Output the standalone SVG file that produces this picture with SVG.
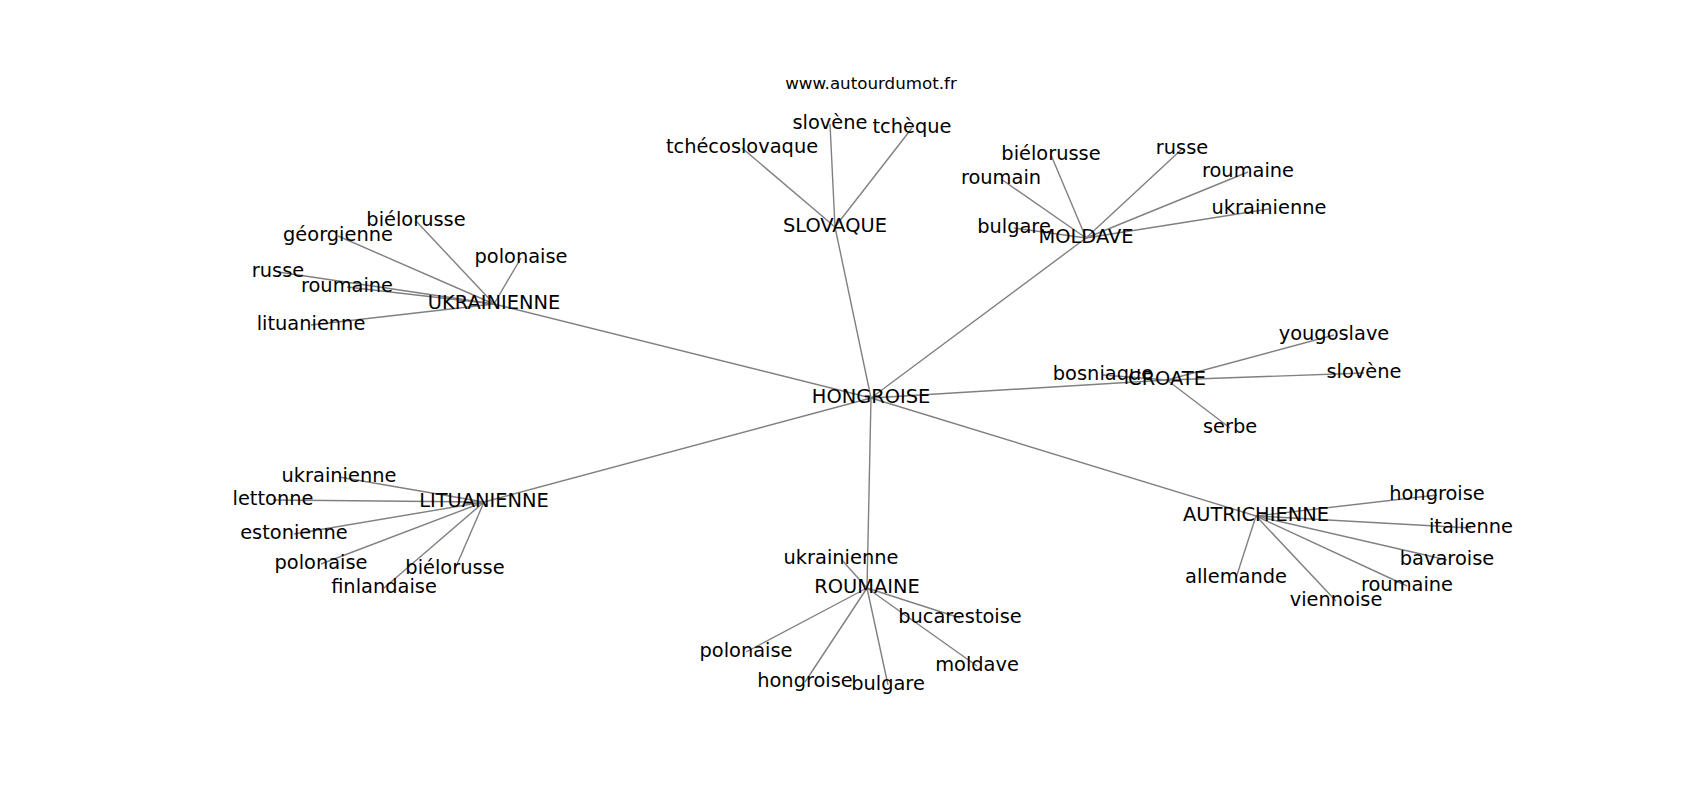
<svg xmlns="http://www.w3.org/2000/svg" width="1700" height="800" viewBox="0 0 1700 800">
<style>
.e line{stroke:#808080;stroke-width:1.4;fill:none}
text{font-family:"DejaVu Sans","Liberation Sans",sans-serif;font-size:19.4px;fill:#000;text-anchor:middle}
.t{font-size:16.7px}
</style>
<rect width="1700" height="800" fill="#fff"/>
<text class="t" x="871" y="89">www.autourdumot.fr</text>
<g class="e" id="edges">
<line x1="871" y1="398" x2="494" y2="304"/>
<line x1="871" y1="398" x2="835" y2="227"/>
<line x1="871" y1="398" x2="1086" y2="238"/>
<line x1="871" y1="398" x2="1167" y2="380"/>
<line x1="871" y1="398" x2="484" y2="502"/>
<line x1="871" y1="398" x2="867" y2="588"/>
<line x1="871" y1="398" x2="1256" y2="516"/>
<line x1="494" y1="304" x2="416" y2="221"/>
<line x1="494" y1="304" x2="338" y2="236"/>
<line x1="494" y1="304" x2="521" y2="258"/>
<line x1="494" y1="304" x2="278" y2="272"/>
<line x1="494" y1="304" x2="347" y2="287"/>
<line x1="494" y1="304" x2="311" y2="325"/>
<line x1="835" y1="227" x2="830" y2="124"/>
<line x1="835" y1="227" x2="912" y2="128"/>
<line x1="835" y1="227" x2="742" y2="148"/>
<line x1="1086" y1="238" x2="1051" y2="155"/>
<line x1="1086" y1="238" x2="1001" y2="179"/>
<line x1="1086" y1="238" x2="1182" y2="149"/>
<line x1="1086" y1="238" x2="1248" y2="172"/>
<line x1="1086" y1="238" x2="1269" y2="209"/>
<line x1="1086" y1="238" x2="1014" y2="228"/>
<line x1="1167" y1="380" x2="1334" y2="335"/>
<line x1="1167" y1="380" x2="1364" y2="373"/>
<line x1="1167" y1="380" x2="1230" y2="428"/>
<line x1="1167" y1="380" x2="1103" y2="375"/>
<line x1="484" y1="502" x2="339" y2="477"/>
<line x1="484" y1="502" x2="273" y2="500"/>
<line x1="484" y1="502" x2="294" y2="534"/>
<line x1="484" y1="502" x2="321" y2="564"/>
<line x1="484" y1="502" x2="384" y2="588"/>
<line x1="484" y1="502" x2="455" y2="569"/>
<line x1="867" y1="588" x2="841" y2="559"/>
<line x1="867" y1="588" x2="960" y2="618"/>
<line x1="867" y1="588" x2="746" y2="652"/>
<line x1="867" y1="588" x2="805" y2="682"/>
<line x1="867" y1="588" x2="888" y2="685"/>
<line x1="867" y1="588" x2="977" y2="666"/>
<line x1="1256" y1="516" x2="1437" y2="495"/>
<line x1="1256" y1="516" x2="1471" y2="528"/>
<line x1="1256" y1="516" x2="1447" y2="560"/>
<line x1="1256" y1="516" x2="1407" y2="586"/>
<line x1="1256" y1="516" x2="1336" y2="601"/>
<line x1="1256" y1="516" x2="1236" y2="578"/>
</g>
<g id="n-hongroise"><text x="871" y="403">HONGROISE</text></g>
<g id="n-ukrainienne"><text x="494" y="309">UKRAINIENNE</text></g>
<g id="n-slovaque"><text x="835" y="232">SLOVAQUE</text></g>
<g id="n-moldave"><text x="1086" y="243">MOLDAVE</text></g>
<g id="n-croate"><text x="1167" y="385">CROATE</text></g>
<g id="n-lituanienne"><text x="484" y="507">LITUANIENNE</text></g>
<g id="n-roumaine"><text x="867" y="593">ROUMAINE</text></g>
<g id="n-autrichienne"><text x="1256" y="521">AUTRICHIENNE</text></g>
<g id="n-ukr-bielorusse"><text x="416" y="226">biélorusse</text></g>
<g id="n-ukr-georgienne"><text x="338" y="241">géorgienne</text></g>
<g id="n-ukr-polonaise"><text x="521" y="263">polonaise</text></g>
<g id="n-ukr-russe"><text x="278" y="277">russe</text></g>
<g id="n-ukr-roumaine"><text x="347" y="292">roumaine</text></g>
<g id="n-ukr-lituanienne"><text x="311" y="330">lituanienne</text></g>
<g id="n-slo-slovene"><text x="830" y="129">slovène</text></g>
<g id="n-slo-tcheque"><text x="912" y="133">tchèque</text></g>
<g id="n-slo-tchecoslovaque"><text x="742" y="153">tchécoslovaque</text></g>
<g id="n-mol-bielorusse"><text x="1051" y="160">biélorusse</text></g>
<g id="n-mol-roumain"><text x="1001" y="184">roumain</text></g>
<g id="n-mol-russe"><text x="1182" y="154">russe</text></g>
<g id="n-mol-roumaine"><text x="1248" y="177">roumaine</text></g>
<g id="n-mol-ukrainienne"><text x="1269" y="214">ukrainienne</text></g>
<g id="n-mol-bulgare"><text x="1014" y="233">bulgare</text></g>
<g id="n-cro-yougoslave"><text x="1334" y="340">yougoslave</text></g>
<g id="n-cro-slovene"><text x="1364" y="378">slovène</text></g>
<g id="n-cro-serbe"><text x="1230" y="433">serbe</text></g>
<g id="n-cro-bosniaque"><text x="1103" y="380">bosniaque</text></g>
<g id="n-lit-ukrainienne"><text x="339" y="482">ukrainienne</text></g>
<g id="n-lit-lettonne"><text x="273" y="505">lettonne</text></g>
<g id="n-lit-estonienne"><text x="294" y="539">estonienne</text></g>
<g id="n-lit-polonaise"><text x="321" y="569">polonaise</text></g>
<g id="n-lit-finlandaise"><text x="384" y="593">finlandaise</text></g>
<g id="n-lit-bielorusse"><text x="455" y="574">biélorusse</text></g>
<g id="n-rou-ukrainienne"><text x="841" y="564">ukrainienne</text></g>
<g id="n-rou-bucarestoise"><text x="960" y="623">bucarestoise</text></g>
<g id="n-rou-polonaise"><text x="746" y="657">polonaise</text></g>
<g id="n-rou-hongroise"><text x="805" y="687">hongroise</text></g>
<g id="n-rou-bulgare"><text x="888" y="690">bulgare</text></g>
<g id="n-rou-moldave"><text x="977" y="671">moldave</text></g>
<g id="n-aut-hongroise"><text x="1437" y="500">hongroise</text></g>
<g id="n-aut-italienne"><text x="1471" y="533">italienne</text></g>
<g id="n-aut-bavaroise"><text x="1447" y="565">bavaroise</text></g>
<g id="n-aut-roumaine"><text x="1407" y="591">roumaine</text></g>
<g id="n-aut-viennoise"><text x="1336" y="606">viennoise</text></g>
<g id="n-aut-allemande"><text x="1236" y="583">allemande</text></g>
</svg>
